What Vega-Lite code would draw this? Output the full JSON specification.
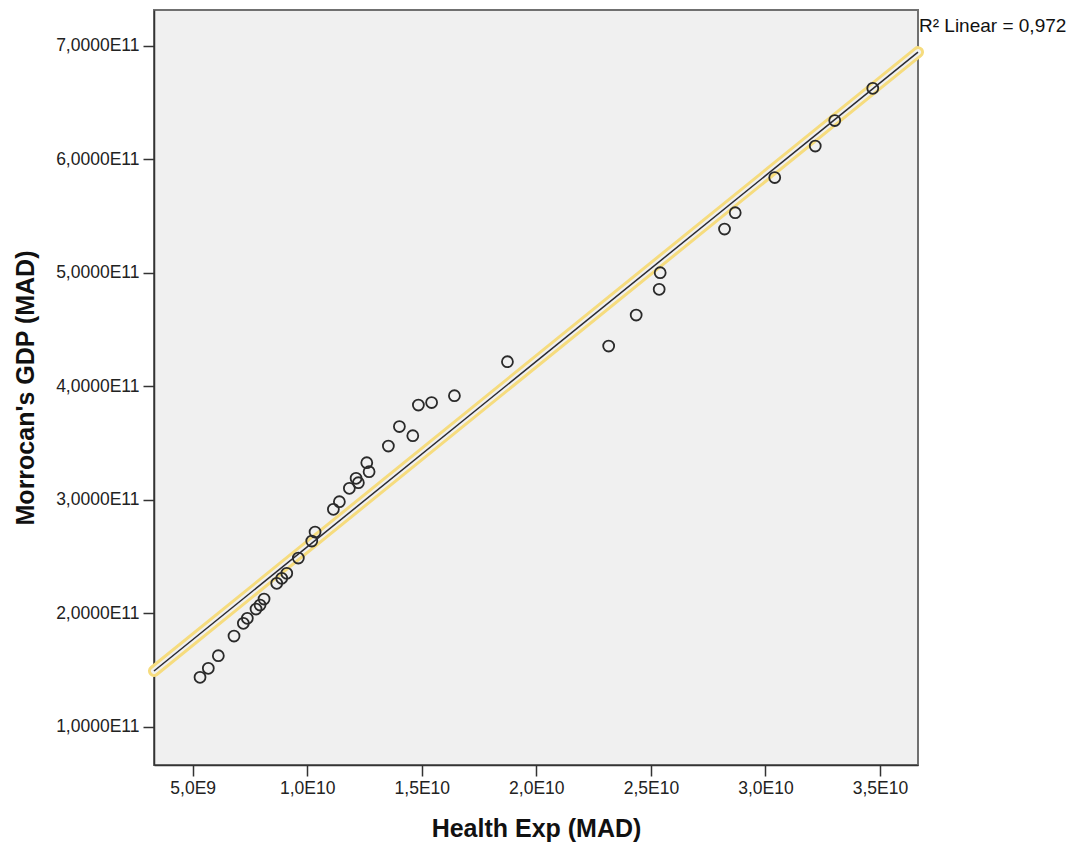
{
  "$schema": "https://vega.github.io/schema/vega-lite/v6.json",
  "autosize": "none",
  "width": 764,
  "height": 755,
  "padding": {"left": 154, "top": 10, "right": 156, "bottom": 100},
  "background": "white",
  "config": {
    "view": {"fill": "#f0f0f0", "stroke": "#707070", "strokeWidth": 2},
    "font": "Liberation Sans",
    "axis": {
      "grid": false,
      "domainColor": "#333333",
      "domainWidth": 1.5,
      "tickColor": "#333333",
      "tickWidth": 1.5,
      "tickSize": 11,
      "labelFont": "Liberation Sans",
      "labelFontSize": 17.5,
      "labelColor": "#222222",
      "titleFont": "Liberation Sans",
      "titleFontSize": 25,
      "titleFontWeight": "bold",
      "titleColor": "#111111"
    }
  },
  "datasets": {
    "pts": [
      {"health": 5.319e9, "gdp": 1.4353e11},
      {"health": 5.681e9, "gdp": 1.5146e11},
      {"health": 6.118e9, "gdp": 1.6256e11},
      {"health": 6.803e9, "gdp": 1.7991e11},
      {"health": 7.210e9, "gdp": 1.9110e11},
      {"health": 7.384e9, "gdp": 1.9551e11},
      {"health": 7.764e9, "gdp": 2.0370e11},
      {"health": 7.939e9, "gdp": 2.0723e11},
      {"health": 8.114e9, "gdp": 2.1251e11},
      {"health": 8.668e9, "gdp": 2.2635e11},
      {"health": 8.886e9, "gdp": 2.3075e11},
      {"health": 9.105e9, "gdp": 2.3516e11},
      {"health": 9.611e9, "gdp": 2.4864e11},
      {"health": 1.0197e10, "gdp": 2.6362e11},
      {"health": 1.0341e10, "gdp": 2.7155e11},
      {"health": 1.1140e10, "gdp": 2.9155e11},
      {"health": 1.1402e10, "gdp": 2.9824e11},
      {"health": 1.1838e10, "gdp": 3.1005e11},
      {"health": 1.2131e10, "gdp": 3.1886e11},
      {"health": 1.2231e10, "gdp": 3.1498e11},
      {"health": 1.2598e10, "gdp": 3.3261e11},
      {"health": 1.2699e10, "gdp": 3.2468e11},
      {"health": 1.3541e10, "gdp": 3.4733e11},
      {"health": 1.4022e10, "gdp": 3.6451e11},
      {"health": 1.4607e10, "gdp": 3.5640e11},
      {"health": 1.4851e10, "gdp": 3.8345e11},
      {"health": 1.5428e10, "gdp": 3.8565e11},
      {"health": 1.6424e10, "gdp": 3.9164e11},
      {"health": 1.8738e10, "gdp": 4.2161e11},
      {"health": 2.3157e10, "gdp": 4.3544e11},
      {"health": 2.4358e10, "gdp": 4.6275e11},
      {"health": 2.5362e10, "gdp": 4.8540e11},
      {"health": 2.5406e10, "gdp": 5.0002e11},
      {"health": 2.8214e10, "gdp": 5.3853e11},
      {"health": 2.8681e10, "gdp": 5.5289e11},
      {"health": 3.0406e10, "gdp": 5.8390e11},
      {"health": 3.2175e10, "gdp": 6.1166e11},
      {"health": 3.3026e10, "gdp": 6.3412e11},
      {"health": 3.4686e10, "gdp": 6.6250e11}
    ],
    "fit": [
      {"health": 3.31e9, "gdp": 1.491e11},
      {"health": 3.666e10, "gdp": 6.944e11}
    ],
    "label": [
      {"health": 3.666e10, "gdp": 7.174e11, "text": "R² Linear = 0,972"}
    ]
  },
  "encoding": {
    "x": {
      "field": "health",
      "type": "quantitative",
      "scale": {"domain": [3.31e9, 3.666e10], "nice": false, "zero": false},
      "axis": {
        "title": "Health Exp (MAD)",
        "values": [5e9, 1e10, 1.5e10, 2e10, 2.5e10, 3e10, 3.5e10],
        "labelExpr": "replace(replace(format(datum.value, '.1e'), '.', ','), 'e+', 'E')",
        "labelPadding": 3,
        "titlePadding": 20
      }
    },
    "y": {
      "field": "gdp",
      "type": "quantitative",
      "scale": {"domain": [6.626e10, 7.315e11], "nice": false, "zero": false},
      "axis": {
        "title": "Morrocan's GDP (MAD)",
        "values": [1e11, 2e11, 3e11, 4e11, 5e11, 6e11, 7e11],
        "labelExpr": "replace(replace(format(datum.value, '.4e'), '.', ','), 'e+', 'E')",
        "labelPadding": 4,
        "titlePadding": 17
      }
    }
  },
  "layer": [
    {
      "data": {"name": "fit"},
      "mark": {"type": "line", "color": "#f6dc7e", "strokeWidth": 12, "strokeCap": "round"}
    },
    {
      "data": {"name": "fit"},
      "mark": {"type": "line", "color": "#f0f0f0", "strokeWidth": 6, "strokeCap": "round"}
    },
    {
      "data": {"name": "pts"},
      "mark": {"type": "point", "shape": "circle", "filled": false, "stroke": "#2a2a2a", "strokeWidth": 1.8, "size": 120, "opacity": 1}
    },
    {
      "data": {"name": "fit"},
      "mark": {"type": "line", "color": "#2b2b33", "strokeWidth": 1.5}
    },
    {
      "data": {"name": "label"},
      "mark": {"type": "text", "align": "left", "baseline": "middle", "dx": 1, "fontSize": 19, "color": "#111111", "font": "Liberation Sans", "clip": false},
      "encoding": {"text": {"field": "text"}}
    }
  ]
}
